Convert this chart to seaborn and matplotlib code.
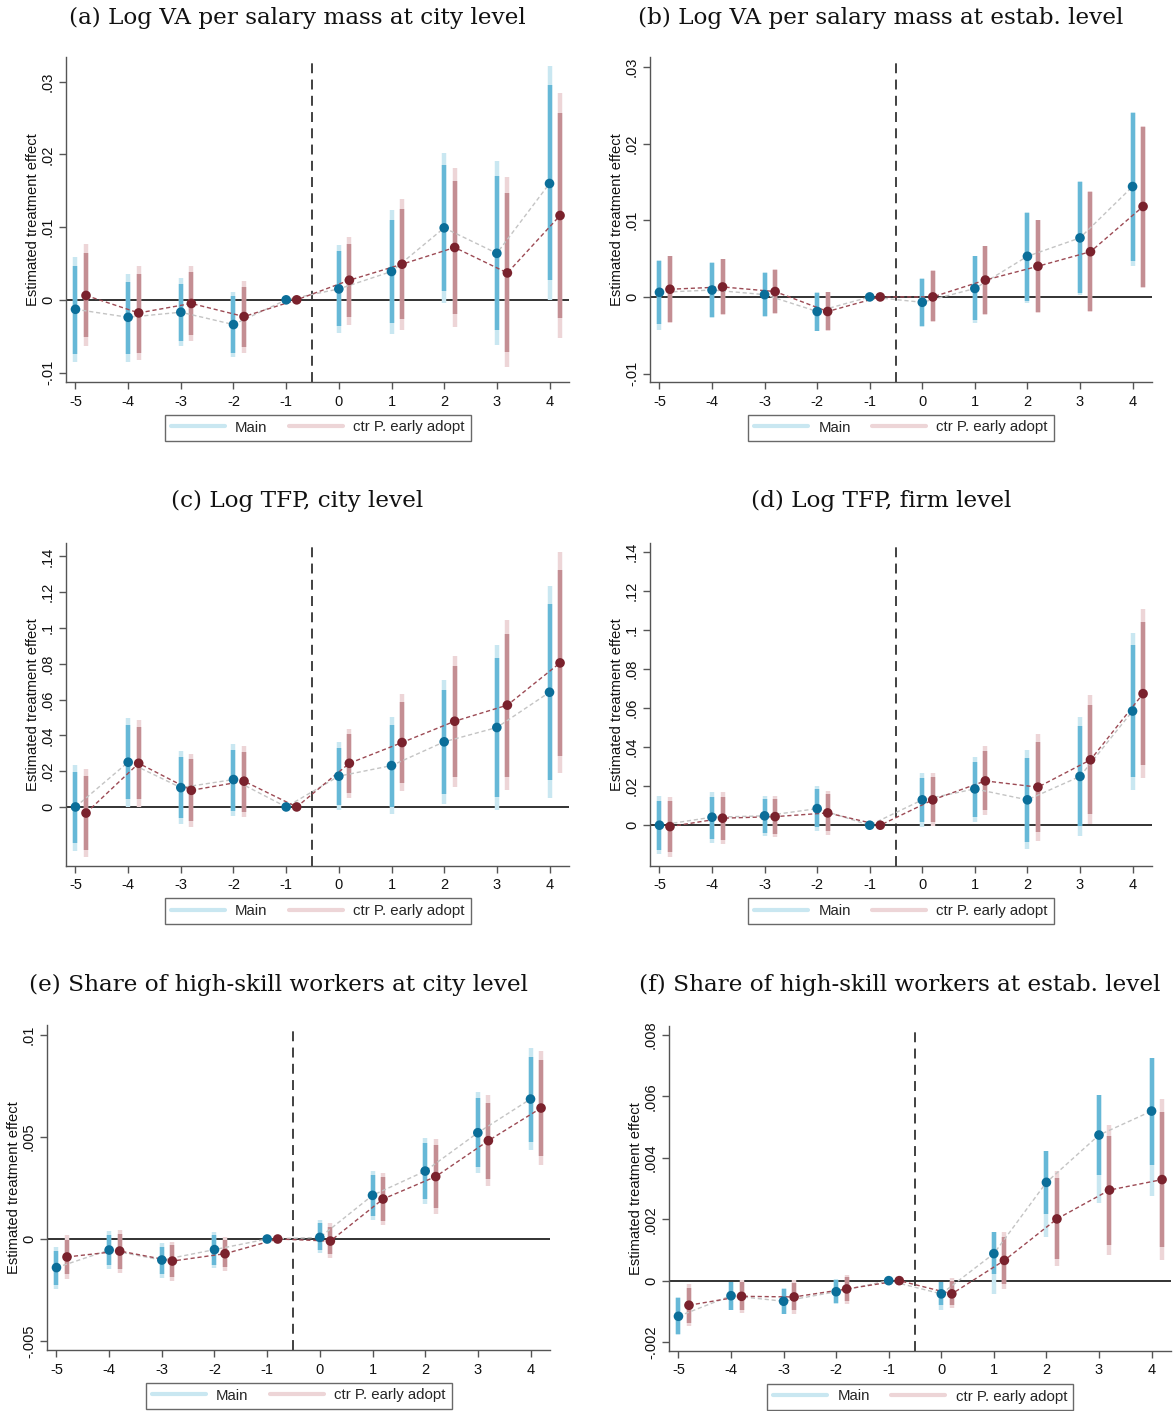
import numpy as np
import pandas as pd
import matplotlib
matplotlib.use("Agg")
import matplotlib.pyplot as plt
from matplotlib.lines import Line2D
from matplotlib.ticker import FixedLocator, FuncFormatter
import seaborn as sns

# ---------------------------------------------------------------- data
EVENT_TIME = [-5, -4, -3, -2, -1, 0, 1, 2, 3, 4]
SERIES = ["Main", "ctr P. early adopt"]
TITLES = [
    "(a) Log VA per salary mass at city level",
    "(b) Log VA per salary mass at estab. level",
    "(c) Log TFP, city level",
    "(d) Log TFP, firm level",
    "(e) Share of high-skill workers at city level",
    "(f) Share of high-skill workers at estab. level",
]

# (a) Log VA per salary mass, city
A_MAIN_B = [-0.0013, -0.0024, -0.0017, -0.0034, 0, 0.0015, 0.0039, 0.0099, 0.0064, 0.0160]
A_MAIN_LO90 = [-0.0074, -0.0075, -0.0056, -0.0073, 0, -0.0036, -0.0032, 0.0012, -0.0041, 0.0027]
A_MAIN_HI90 = [0.0047, 0.0025, 0.0022, 0.0005, 0, 0.0067, 0.0110, 0.0185, 0.0170, 0.0295]
A_MAIN_LO95 = [-0.0086, -0.0085, -0.0063, -0.0079, 0, -0.0045, -0.0047, -0.0005, -0.0062, 0.0000]
A_MAIN_HI95 = [0.0059, 0.0035, 0.0030, 0.0011, 0, 0.0076, 0.0124, 0.0202, 0.0191, 0.0321]
A_CTRL_B = [0.0006, -0.0018, -0.0005, -0.0023, 0, 0.0027, 0.0049, 0.0072, 0.0037, 0.0116]
A_CTRL_LO90 = [-0.0051, -0.0073, -0.0048, -0.0065, 0, -0.0024, -0.0027, -0.0019, -0.0072, -0.0025]
A_CTRL_HI90 = [0.0065, 0.0036, 0.0038, 0.0018, 0, 0.0077, 0.0125, 0.0163, 0.0147, 0.0257]
A_CTRL_LO95 = [-0.0063, -0.0083, -0.0056, -0.0073, 0, -0.0034, -0.0041, -0.0037, -0.0093, -0.0052]
A_CTRL_HI95 = [0.0077, 0.0047, 0.0046, 0.0026, 0, 0.0086, 0.0139, 0.0181, 0.0169, 0.0285]

# (b) Log VA per salary mass, establishment
B_MAIN_B = [0.0006, 0.0009, 0.0003, -0.0019, 0, -0.0007, 0.0011, 0.0053, 0.0077, 0.0144]
B_MAIN_LO90 = [-0.0035, -0.0026, -0.0025, -0.0044, 0, -0.0038, -0.0030, -0.0005, 0.0005, 0.0047]
B_MAIN_HI90 = [0.0047, 0.0044, 0.0031, 0.0005, 0, 0.0024, 0.0053, 0.0110, 0.0150, 0.0240]
B_MAIN_LO95 = [-0.0043, -0.0027, -0.0026, -0.0045, 0, -0.0039, -0.0034, -0.0008, 0.0003, 0.0040]
B_MAIN_HI95 = [0.0048, 0.0045, 0.0032, 0.0006, 0, 0.0025, 0.0054, 0.0111, 0.0151, 0.0241]
B_CTRL_B = [0.0010, 0.0013, 0.0007, -0.0019, 0, 0.0000, 0.0022, 0.0040, 0.0059, 0.0118]
B_CTRL_LO90 = [-0.0033, -0.0022, -0.0021, -0.0043, 0, -0.0032, -0.0022, -0.0020, -0.0019, 0.0013]
B_CTRL_HI90 = [0.0053, 0.0049, 0.0035, 0.0006, 0, 0.0034, 0.0066, 0.0100, 0.0137, 0.0222]
B_CTRL_LO95 = [-0.0034, -0.0023, -0.0022, -0.0044, 0, -0.0033, -0.0023, -0.0021, -0.0020, 0.0012]
B_CTRL_HI95 = [0.0054, 0.0050, 0.0036, 0.0007, 0, 0.0035, 0.0067, 0.0101, 0.0138, 0.0223]

# (c) Log TFP, city
C_MAIN_B = [0.0000, 0.0250, 0.0108, 0.0153, 0, 0.0172, 0.0231, 0.0364, 0.0444, 0.0641]
C_MAIN_LO90 = [-0.0203, 0.0043, -0.0063, -0.0020, 0, 0.0011, -0.0002, 0.0073, 0.0058, 0.0151]
C_MAIN_HI90 = [0.0198, 0.0459, 0.0278, 0.0319, 0, 0.0332, 0.0459, 0.0654, 0.0831, 0.1135]
C_MAIN_LO95 = [-0.0244, 0.0002, -0.0095, -0.0048, 0, -0.0017, -0.0041, 0.0017, -0.0017, 0.0052]
C_MAIN_HI95 = [0.0235, 0.0496, 0.0313, 0.0350, 0, 0.0365, 0.0501, 0.0710, 0.0906, 0.1232]
C_CTRL_B = [-0.0034, 0.0244, 0.0093, 0.0144, 0, 0.0244, 0.0360, 0.0479, 0.0569, 0.0805]
C_CTRL_LO90 = [-0.0240, 0.0043, -0.0076, -0.0026, 0, 0.0080, 0.0132, 0.0170, 0.0170, 0.0287]
C_CTRL_HI90 = [0.0173, 0.0449, 0.0267, 0.0309, 0, 0.0406, 0.0585, 0.0789, 0.0966, 0.1326]
C_CTRL_LO95 = [-0.0282, -0.0002, -0.0110, -0.0058, 0, 0.0052, 0.0089, 0.0114, 0.0095, 0.0188]
C_CTRL_HI95 = [0.0213, 0.0487, 0.0296, 0.0341, 0, 0.0436, 0.0632, 0.0845, 0.1046, 0.1424]

# (d) Log TFP, firm
D_MAIN_B = [0.0000, 0.0041, 0.0048, 0.0085, 0, 0.0130, 0.0186, 0.0130, 0.0250, 0.0585]
D_MAIN_LO90 = [-0.0126, -0.0072, -0.0038, -0.0010, 0, 0.0015, 0.0044, -0.0084, -0.0003, 0.0246]
D_MAIN_HI90 = [0.0126, 0.0147, 0.0133, 0.0185, 0, 0.0244, 0.0326, 0.0344, 0.0506, 0.0921]
D_MAIN_LO95 = [-0.0147, -0.0089, -0.0055, -0.0031, 0, -0.0007, 0.0015, -0.0121, -0.0055, 0.0181]
D_MAIN_HI95 = [0.0152, 0.0168, 0.0150, 0.0202, 0, 0.0267, 0.0352, 0.0383, 0.0554, 0.0985]
D_CTRL_B = [-0.0007, 0.0036, 0.0044, 0.0063, 0, 0.0130, 0.0227, 0.0195, 0.0335, 0.0674]
D_CTRL_LO90 = [-0.0135, -0.0075, -0.0044, -0.0032, 0, 0.0015, 0.0079, -0.0036, 0.0058, 0.0309]
D_CTRL_HI90 = [0.0123, 0.0147, 0.0133, 0.0159, 0, 0.0246, 0.0378, 0.0426, 0.0614, 0.1039]
D_CTRL_LO95 = [-0.0164, -0.0096, -0.0062, -0.0050, 0, -0.0003, 0.0050, -0.0079, 0.0007, 0.0241]
D_CTRL_HI95 = [0.0147, 0.0168, 0.0150, 0.0176, 0, 0.0267, 0.0407, 0.0468, 0.0665, 0.1109]

# (e) Share of high-skill workers, city
E_MAIN_B = [-0.00140, -0.00054, -0.00103, -0.00052, 0, 0.00008, 0.00214, 0.00333, 0.00521, 0.00686]
E_MAIN_LO90 = [-0.00225, -0.00127, -0.00173, -0.00127, 0, -0.00054, 0.00113, 0.00194, 0.00355, 0.00477]
E_MAIN_HI90 = [-0.00057, 0.00020, -0.00038, 0.00020, 0, 0.00077, 0.00314, 0.00469, 0.00690, 0.00894]
E_MAIN_LO95 = [-0.00247, -0.00149, -0.00190, -0.00144, 0, -0.00070, 0.00093, 0.00172, 0.00322, 0.00436]
E_MAIN_HI95 = [-0.00038, 0.00040, -0.00020, 0.00036, 0, 0.00093, 0.00335, 0.00493, 0.00722, 0.00935]
E_CTRL_B = [-0.00088, -0.00059, -0.00108, -0.00072, 0, -0.00010, 0.00196, 0.00306, 0.00482, 0.00642]
E_CTRL_LO90 = [-0.00173, -0.00147, -0.00185, -0.00139, 0, -0.00075, 0.00090, 0.00150, 0.00292, 0.00408]
E_CTRL_HI90 = [-0.00005, 0.00025, -0.00030, -0.00005, 0, 0.00060, 0.00302, 0.00461, 0.00668, 0.00877]
E_CTRL_LO95 = [-0.00198, -0.00168, -0.00204, -0.00155, 0, -0.00092, 0.00069, 0.00123, 0.00260, 0.00363]
E_CTRL_HI95 = [0.00020, 0.00044, -0.00013, 0.00010, 0, 0.00077, 0.00325, 0.00489, 0.00706, 0.00923]

# (f) Share of high-skill workers, establishment
F_MAIN_B = [-0.00116, -0.00049, -0.00067, -0.00036, 0, -0.00043, 0.00088, 0.00320, 0.00474, 0.00552]
F_MAIN_LO90 = [-0.00175, -0.00095, -0.00108, -0.00073, 0, -0.00080, 0.00021, 0.00218, 0.00343, 0.00378]
F_MAIN_HI90 = [-0.00055, -0.00004, -0.00026, 0.00003, 0, -0.00004, 0.00157, 0.00422, 0.00604, 0.00724]
F_MAIN_LO95 = [-0.00177, -0.00097, -0.00110, -0.00075, 0, -0.00097, -0.00042, 0.00142, 0.00253, 0.00275]
F_MAIN_HI95 = [-0.00054, -0.00003, -0.00025, 0.00004, 0, -0.00003, 0.00158, 0.00423, 0.00605, 0.00725]
F_CTRL_B = [-0.00080, -0.00051, -0.00053, -0.00027, 0, -0.00043, 0.00066, 0.00201, 0.00295, 0.00329]
F_CTRL_LO90 = [-0.00138, -0.00095, -0.00097, -0.00067, 0, -0.00080, -0.00010, 0.00072, 0.00117, 0.00110]
F_CTRL_HI90 = [-0.00023, -0.00004, -0.00008, 0.00012, 0, -0.00001, 0.00142, 0.00333, 0.00471, 0.00548]
F_CTRL_LO95 = [-0.00149, -0.00105, -0.00108, -0.00077, 0, -0.00089, -0.00026, 0.00047, 0.00083, 0.00068]
F_CTRL_HI95 = [-0.00010, 0.00001, 0.00001, 0.00020, 0, 0.00008, 0.00159, 0.00357, 0.00507, 0.00590]

# y-axis ticks per panel
A_YTICKS = [-0.01, 0.0, 0.01, 0.02, 0.03]
B_YTICKS = [-0.01, 0.0, 0.01, 0.02, 0.03]
C_YTICKS = [0.0, 0.02, 0.04, 0.06, 0.08, 0.10, 0.12, 0.14]
D_YTICKS = [0.0, 0.02, 0.04, 0.06, 0.08, 0.10, 0.12, 0.14]
E_YTICKS = [-0.005, 0.0, 0.005, 0.01]
F_YTICKS = [-0.002, 0.0, 0.002, 0.004, 0.006, 0.008]

# ---------------------------------------------------------------- style
sns.set_theme(style="white")
plt.rcParams["font.family"] = ["Liberation Sans", "DejaVu Sans"]

MAIN_DOT = "#0b6e99"
MAIN_CI90 = "#66b8d7"
MAIN_CI95 = "#c9e7f1"
MAIN_LINE = "#c4c4c4"
CTRL_DOT = "#7a222d"
CTRL_CI90 = "#c48e93"
CTRL_CI95 = "#edd5d7"
CTRL_LINE = "#9c4a54"
SHIFT = 0.2


def stata_fmt(v, _pos=None):
    if abs(v) < 1e-12:
        return "0"
    s = ("%g" % v)
    if s.startswith("0."):
        s = s[1:]
    elif s.startswith("-0."):
        s = "-" + s[2:]
    return s


def build_frame(b, lo90, hi90, lo95, hi95, label, shift):
    return pd.DataFrame({
        "t": np.array(EVENT_TIME, dtype=float) + shift,
        "b": b, "lo90": lo90, "hi90": hi90, "lo95": lo95, "hi95": hi95,
        "series": label,
    })


PANELS = [
    (A_MAIN_B, A_MAIN_LO90, A_MAIN_HI90, A_MAIN_LO95, A_MAIN_HI95,
     A_CTRL_B, A_CTRL_LO90, A_CTRL_HI90, A_CTRL_LO95, A_CTRL_HI95, A_YTICKS, (-0.0113, 0.0334)),
    (B_MAIN_B, B_MAIN_LO90, B_MAIN_HI90, B_MAIN_LO95, B_MAIN_HI95,
     B_CTRL_B, B_CTRL_LO90, B_CTRL_HI90, B_CTRL_LO95, B_CTRL_HI95, B_YTICKS, (-0.0111, 0.0313)),
    (C_MAIN_B, C_MAIN_LO90, C_MAIN_HI90, C_MAIN_LO95, C_MAIN_HI95,
     C_CTRL_B, C_CTRL_LO90, C_CTRL_HI90, C_CTRL_LO95, C_CTRL_HI95, C_YTICKS, (-0.033, 0.1475)),
    (D_MAIN_B, D_MAIN_LO90, D_MAIN_HI90, D_MAIN_LO95, D_MAIN_HI95,
     D_CTRL_B, D_CTRL_LO90, D_CTRL_HI90, D_CTRL_LO95, D_CTRL_HI95, D_YTICKS, (-0.0209, 0.1446)),
    (E_MAIN_B, E_MAIN_LO90, E_MAIN_HI90, E_MAIN_LO95, E_MAIN_HI95,
     E_CTRL_B, E_CTRL_LO90, E_CTRL_HI90, E_CTRL_LO95, E_CTRL_HI95, E_YTICKS, (-0.00544, 0.01049)),
    (F_MAIN_B, F_MAIN_LO90, F_MAIN_HI90, F_MAIN_LO95, F_MAIN_HI95,
     F_CTRL_B, F_CTRL_LO90, F_CTRL_HI90, F_CTRL_LO95, F_CTRL_HI95, F_YTICKS, (-0.00229, 0.00829)),
]

# axes rectangles in pixels: left, top, right, bottom
W, H = 1175, 1411
RECTS = [
    (66, 57, 569, 382),
    (650, 57, 1152, 382),
    (66, 543, 569, 866),
    (650, 543, 1152, 866),
    (47, 1025, 550, 1350),
    (669, 1026, 1171, 1351),
]
TITLE_Y = [18, 18, 501, 501, 985, 985]

fig = plt.figure(figsize=(W / 100, H / 100), dpi=100)
fig.patch.set_facecolor("white")

for i, (rect, panel) in enumerate(zip(RECTS, PANELS)):
    l, t, r, btm = rect
    ax = fig.add_axes([l / W, 1 - btm / H, (r - l) / W, (btm - t) / H])
    (mb, mlo90, mhi90, mlo95, mhi95, cb, clo90, chi90, clo95, chi95, yticks, ylim) = panel
    main = build_frame(mb, mlo90, mhi90, mlo95, mhi95, SERIES[0], 0.0)
    ctrl = build_frame(cb, clo90, chi90, clo95, chi95, SERIES[1], SHIFT)

    ax.axhline(0, color="#222222", lw=1.3, zorder=1)
    ax.axvline(-0.5, color="#333333", lw=1.3, ls=(0, (5.5, 3.5)), zorder=1)

    for df, c95, c90 in ((main, MAIN_CI95, MAIN_CI90), (ctrl, CTRL_CI95, CTRL_CI90)):
        ci = df[df["hi95"] > df["lo95"]]
        ax.vlines(ci["t"], ci["lo95"], ci["hi95"], color=c95, lw=3.2, zorder=2)
        ci = df[df["hi90"] > df["lo90"]]
        ax.vlines(ci["t"], ci["lo90"], ci["hi90"], color=c90, lw=3.2, zorder=3)

    sns.lineplot(data=main, x="t", y="b", ax=ax, color=MAIN_LINE, lw=1.0,
                 linestyle=(0, (3, 2)), estimator=None, legend=False, zorder=4)
    sns.lineplot(data=ctrl, x="t", y="b", ax=ax, color=CTRL_LINE, lw=1.0,
                 linestyle=(0, (3, 2)), estimator=None, legend=False, zorder=4)
    sns.scatterplot(data=main, x="t", y="b", ax=ax, color=MAIN_DOT, s=48,
                    edgecolor="none", legend=False, zorder=5)
    sns.scatterplot(data=ctrl, x="t", y="b", ax=ax, color=CTRL_DOT, s=48,
                    edgecolor="none", legend=False, zorder=5)

    ax.set_xlim(-5.18, 4.37)
    ax.set_ylim(*ylim)
    ax.xaxis.set_major_locator(FixedLocator(EVENT_TIME))
    ax.xaxis.set_major_formatter(FuncFormatter(lambda v, p: "%d" % round(v)))
    ax.yaxis.set_major_locator(FixedLocator(yticks))
    ax.yaxis.set_major_formatter(FuncFormatter(stata_fmt))

    for side in ("top", "right"):
        ax.spines[side].set_visible(False)
    for side in ("left", "bottom"):
        ax.spines[side].set_color("#555555")
        ax.spines[side].set_linewidth(1.0)
    ax.tick_params(axis="both", direction="out", length=5, width=1.0,
                   color="#555555", labelsize=10.5, labelcolor="#111111",
                   left=True, bottom=True)
    ax.tick_params(axis="x", pad=4)
    ax.tick_params(axis="y", pad=3, labelrotation=90)
    for lab in ax.get_yticklabels():
        lab.set_va("center")
        lab.set_ha("right")

    ax.set_xlabel("")
    ax.set_ylabel("Estimated treatment effect", fontsize=10.6, color="#111111")
    ax.yaxis.set_label_coords(-0.052, 0.5)

    handles = [Line2D([], [], color=MAIN_CI95, lw=3.0),
               Line2D([], [], color=CTRL_CI95, lw=3.0)]
    leg = ax.legend(handles, SERIES, loc="center", bbox_to_anchor=(0.5, -0.14),
                    ncol=2, fontsize=10.8, frameon=True, fancybox=False,
                    handlelength=3.6, columnspacing=1.4, handletextpad=0.7,
                    borderpad=0.4, borderaxespad=0)
    leg.get_frame().set_edgecolor("#444444")
    leg.get_frame().set_linewidth(1.0)

    cx = (l + r) / 2 - 20
    fig.text(cx / W, 1 - TITLE_Y[i] / H, TITLES[i], ha="center", va="center",
             fontsize=16.7, family=["DejaVu Serif"], color="#111111")

fig.savefig("out.png", dpi=100, facecolor="white")
